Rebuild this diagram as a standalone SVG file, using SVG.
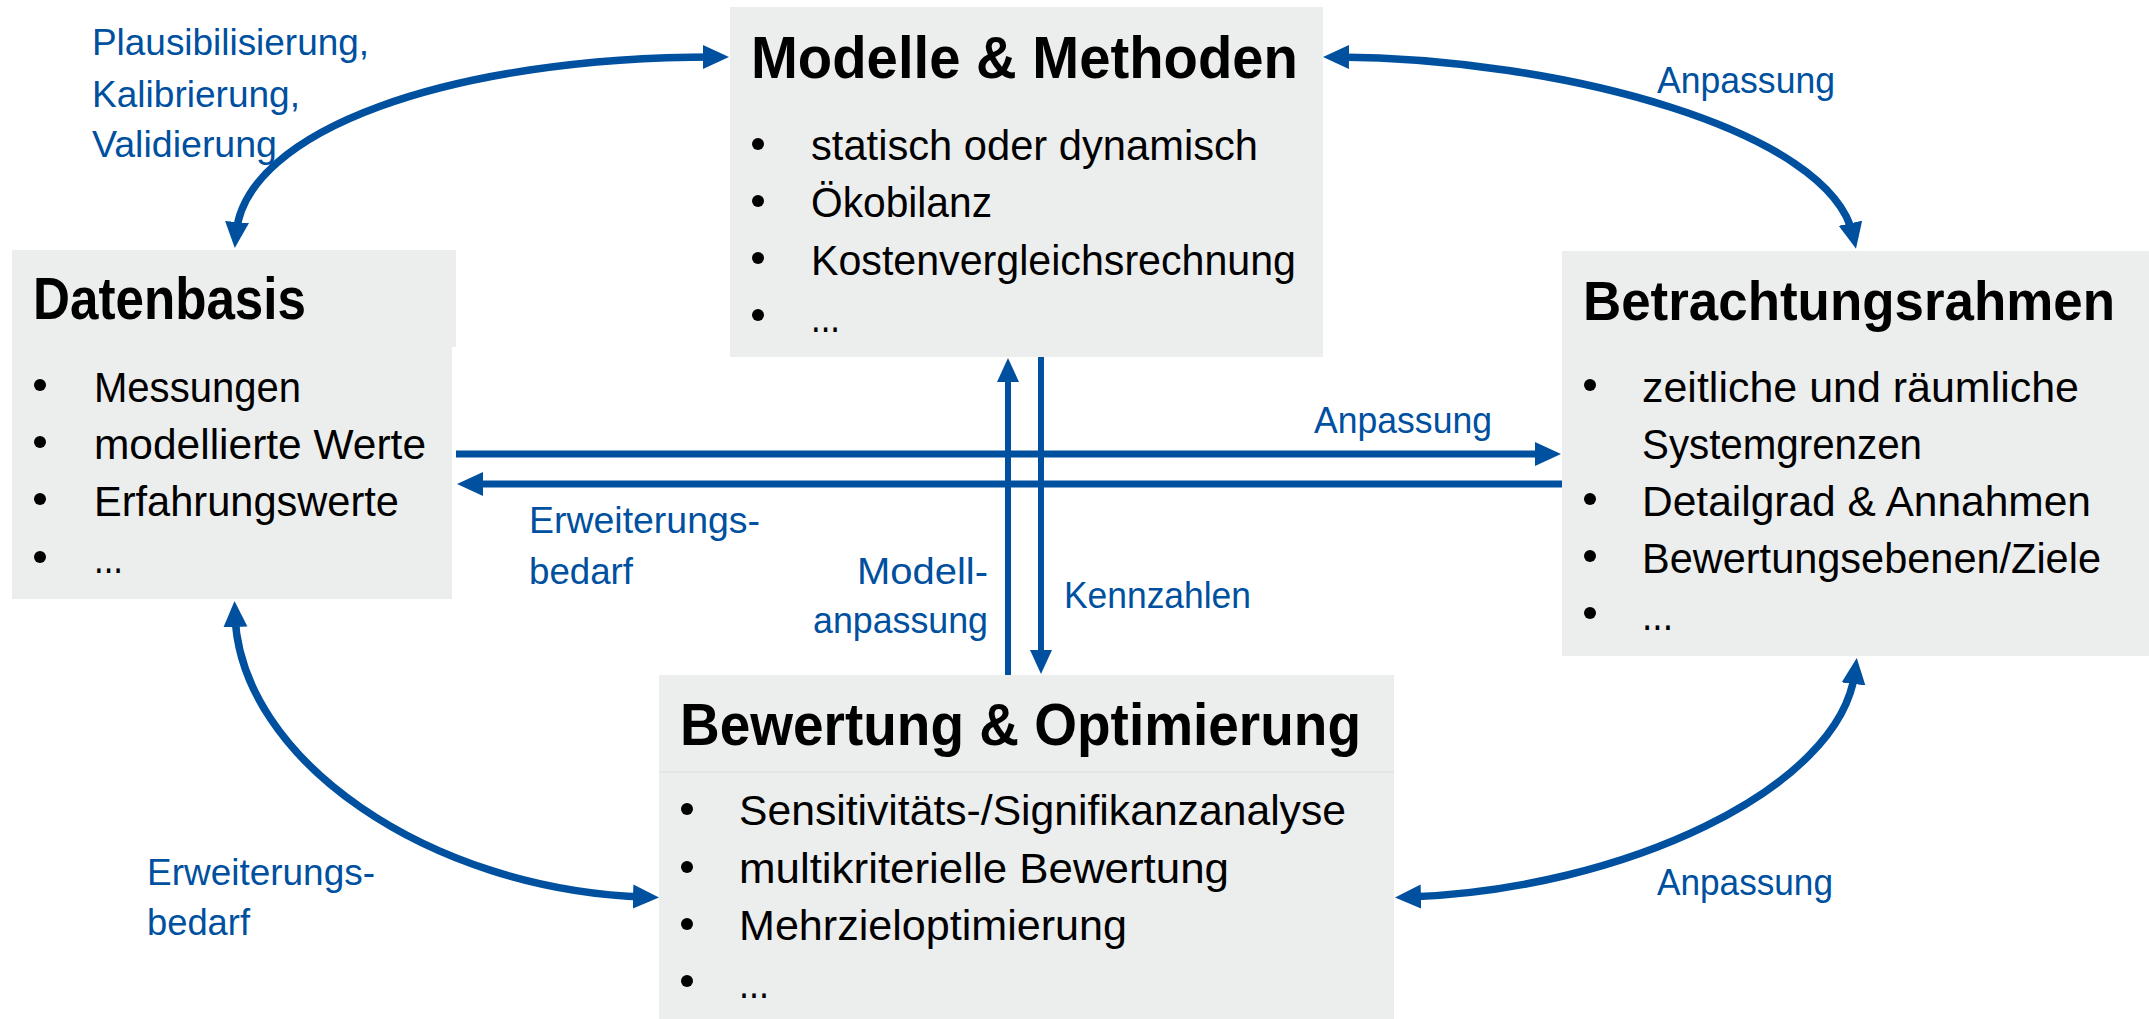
<svg xmlns="http://www.w3.org/2000/svg" width="2149" height="1019" viewBox="0 0 2149 1019">
<defs>
<style>
.box{fill:#ECEDED}
.sep{stroke:#E2E3E3;stroke-width:1.5}
.title{font-family:"Liberation Sans",Arial,sans-serif;font-size:60px;font-weight:bold;fill:#000}
.item{font-family:"Liberation Sans",Arial,sans-serif;font-size:43px;fill:#000}
.lbl{font-family:"Liberation Sans",Arial,sans-serif;font-size:37px;fill:#0050A0}
.bul{fill:#000}
.arc{fill:none;stroke:#0050A0;stroke-width:7.5;marker-start:url(#ah);marker-end:url(#ah)}
.h{fill:none;stroke:#0050A0;stroke-width:7;marker-end:url(#ah)}
.v{fill:none;stroke:#0050A0;stroke-width:6;marker-end:url(#ahs)}
</style>
<marker id="ah" markerUnits="userSpaceOnUse" markerWidth="26" markerHeight="26" viewBox="0 0 26 24" refX="12" refY="12" orient="auto-start-reverse">
<path d="M0,0 L26,12 L0,24 Z" fill="#0050A0"/>
</marker>
<marker id="ahs" markerUnits="userSpaceOnUse" markerWidth="24" markerHeight="22" viewBox="0 0 24 22" refX="10" refY="11" orient="auto-start-reverse">
<path d="M0,0 L24,11 L0,22 Z" fill="#0050A0"/>
</marker>
</defs>

<g id="modelle">
<rect class="box" x="730" y="7" width="593" height="350"/>
<text class="title" x="751" y="78" textLength="547" lengthAdjust="spacingAndGlyphs">Modelle &amp; Methoden</text>
<circle class="bul" cx="758" cy="144" r="6"/>
<circle class="bul" cx="758" cy="201" r="6"/>
<circle class="bul" cx="758" cy="258" r="6"/>
<circle class="bul" cx="758" cy="315" r="6"/>
<text class="item" x="811" y="160" textLength="447" lengthAdjust="spacingAndGlyphs">statisch oder dynamisch</text>
<text class="item" x="811" y="217" textLength="181" lengthAdjust="spacingAndGlyphs">Ökobilanz</text>
<text class="item" x="811" y="275" textLength="485" lengthAdjust="spacingAndGlyphs">Kostenvergleichsrechnung</text>
<text class="item" x="811" y="332" textLength="29" lengthAdjust="spacingAndGlyphs">...</text>
</g>

<g id="datenbasis">
<rect class="box" x="12" y="250" width="444" height="97"/>
<rect class="box" x="12" y="346" width="440" height="253"/>
<text class="title" x="33" y="319" textLength="273" lengthAdjust="spacingAndGlyphs">Datenbasis</text>
<circle class="bul" cx="40" cy="385" r="6"/>
<circle class="bul" cx="40" cy="442" r="6"/>
<circle class="bul" cx="40" cy="499" r="6"/>
<circle class="bul" cx="40" cy="557" r="6"/>
<text class="item" x="94" y="402" textLength="207" lengthAdjust="spacingAndGlyphs">Messungen</text>
<text class="item" x="94" y="459" textLength="332" lengthAdjust="spacingAndGlyphs">modellierte Werte</text>
<text class="item" x="94" y="516" textLength="305" lengthAdjust="spacingAndGlyphs">Erfahrungswerte</text>
<text class="item" x="94" y="573" textLength="29" lengthAdjust="spacingAndGlyphs">...</text>
</g>

<g id="betrachtungsrahmen">
<rect class="box" x="1562" y="251" width="587" height="405"/>
<text class="title" x="1583" y="320" style="font-size:56px" textLength="532" lengthAdjust="spacingAndGlyphs">Betrachtungsrahmen</text>
<circle class="bul" cx="1590" cy="385" r="6"/>
<circle class="bul" cx="1590" cy="499" r="6"/>
<circle class="bul" cx="1590" cy="556" r="6"/>
<circle class="bul" cx="1590" cy="613" r="6"/>
<text class="item" x="1642" y="402" textLength="437" lengthAdjust="spacingAndGlyphs">zeitliche und räumliche</text>
<text class="item" x="1642" y="459" textLength="280" lengthAdjust="spacingAndGlyphs">Systemgrenzen</text>
<text class="item" x="1642" y="516" textLength="449" lengthAdjust="spacingAndGlyphs">Detailgrad &amp; Annahmen</text>
<text class="item" x="1642" y="573" textLength="459" lengthAdjust="spacingAndGlyphs">Bewertungsebenen/Ziele</text>
<text class="item" x="1642" y="630" textLength="31" lengthAdjust="spacingAndGlyphs">...</text>
</g>

<g id="bewertung">
<rect class="box" x="659" y="675" width="735" height="344"/>
<line class="sep" x1="659" y1="772" x2="1394" y2="772"/>
<text class="title" x="680" y="745" textLength="681" lengthAdjust="spacingAndGlyphs">Bewertung &amp; Optimierung</text>
<circle class="bul" cx="687" cy="809" r="6"/>
<circle class="bul" cx="687" cy="867" r="6"/>
<circle class="bul" cx="687" cy="924" r="6"/>
<circle class="bul" cx="687" cy="981" r="6"/>
<text class="item" x="739" y="825" textLength="607" lengthAdjust="spacingAndGlyphs">Sensitivitäts-/Signifikanzanalyse</text>
<text class="item" x="739" y="883" textLength="490" lengthAdjust="spacingAndGlyphs">multikriterielle Bewertung</text>
<text class="item" x="739" y="940" textLength="388" lengthAdjust="spacingAndGlyphs">Mehrzieloptimierung</text>
<text class="item" x="739" y="998" textLength="30" lengthAdjust="spacingAndGlyphs">...</text>
</g>

<g id="connectors">
<path class="arc" d="M236,234 C245,130 450,57 715,57"/>
<path class="arc" d="M1337,57 C1560,58 1830,130 1853,235"/>
<path class="arc" d="M235,615 C240,760 430,890 645,897"/>
<path class="arc" d="M1409,897 C1620,890 1840,790 1855,672"/>
<path class="h" d="M456,454 H1547"/>
<path class="h" d="M1562,484 H471"/>
<path class="v" d="M1008,675 V372"/>
<path class="v" d="M1041,357 V660"/>
</g>

<g id="labels">
<text class="lbl" x="92" y="55" textLength="277" lengthAdjust="spacingAndGlyphs">Plausibilisierung,</text>
<text class="lbl" x="92" y="107" textLength="208" lengthAdjust="spacingAndGlyphs">Kalibrierung,</text>
<text class="lbl" x="92" y="157" textLength="185" lengthAdjust="spacingAndGlyphs">Validierung</text>
<text class="lbl" x="1657" y="93" textLength="178" lengthAdjust="spacingAndGlyphs">Anpassung</text>
<text class="lbl" x="1314" y="433" textLength="178" lengthAdjust="spacingAndGlyphs">Anpassung</text>
<text class="lbl" x="529" y="533" textLength="231" lengthAdjust="spacingAndGlyphs">Erweiterungs-</text>
<text class="lbl" x="529" y="584" textLength="104" lengthAdjust="spacingAndGlyphs">bedarf</text>
<text class="lbl" x="857" y="584" textLength="131" lengthAdjust="spacingAndGlyphs">Modell-</text>
<text class="lbl" x="813" y="633" textLength="175" lengthAdjust="spacingAndGlyphs">anpassung</text>
<text class="lbl" x="1064" y="608" textLength="187" lengthAdjust="spacingAndGlyphs">Kennzahlen</text>
<text class="lbl" x="147" y="885" textLength="228" lengthAdjust="spacingAndGlyphs">Erweiterungs-</text>
<text class="lbl" x="147" y="935" textLength="103" lengthAdjust="spacingAndGlyphs">bedarf</text>
<text class="lbl" x="1657" y="895" textLength="176" lengthAdjust="spacingAndGlyphs">Anpassung</text>
</g>
</svg>
